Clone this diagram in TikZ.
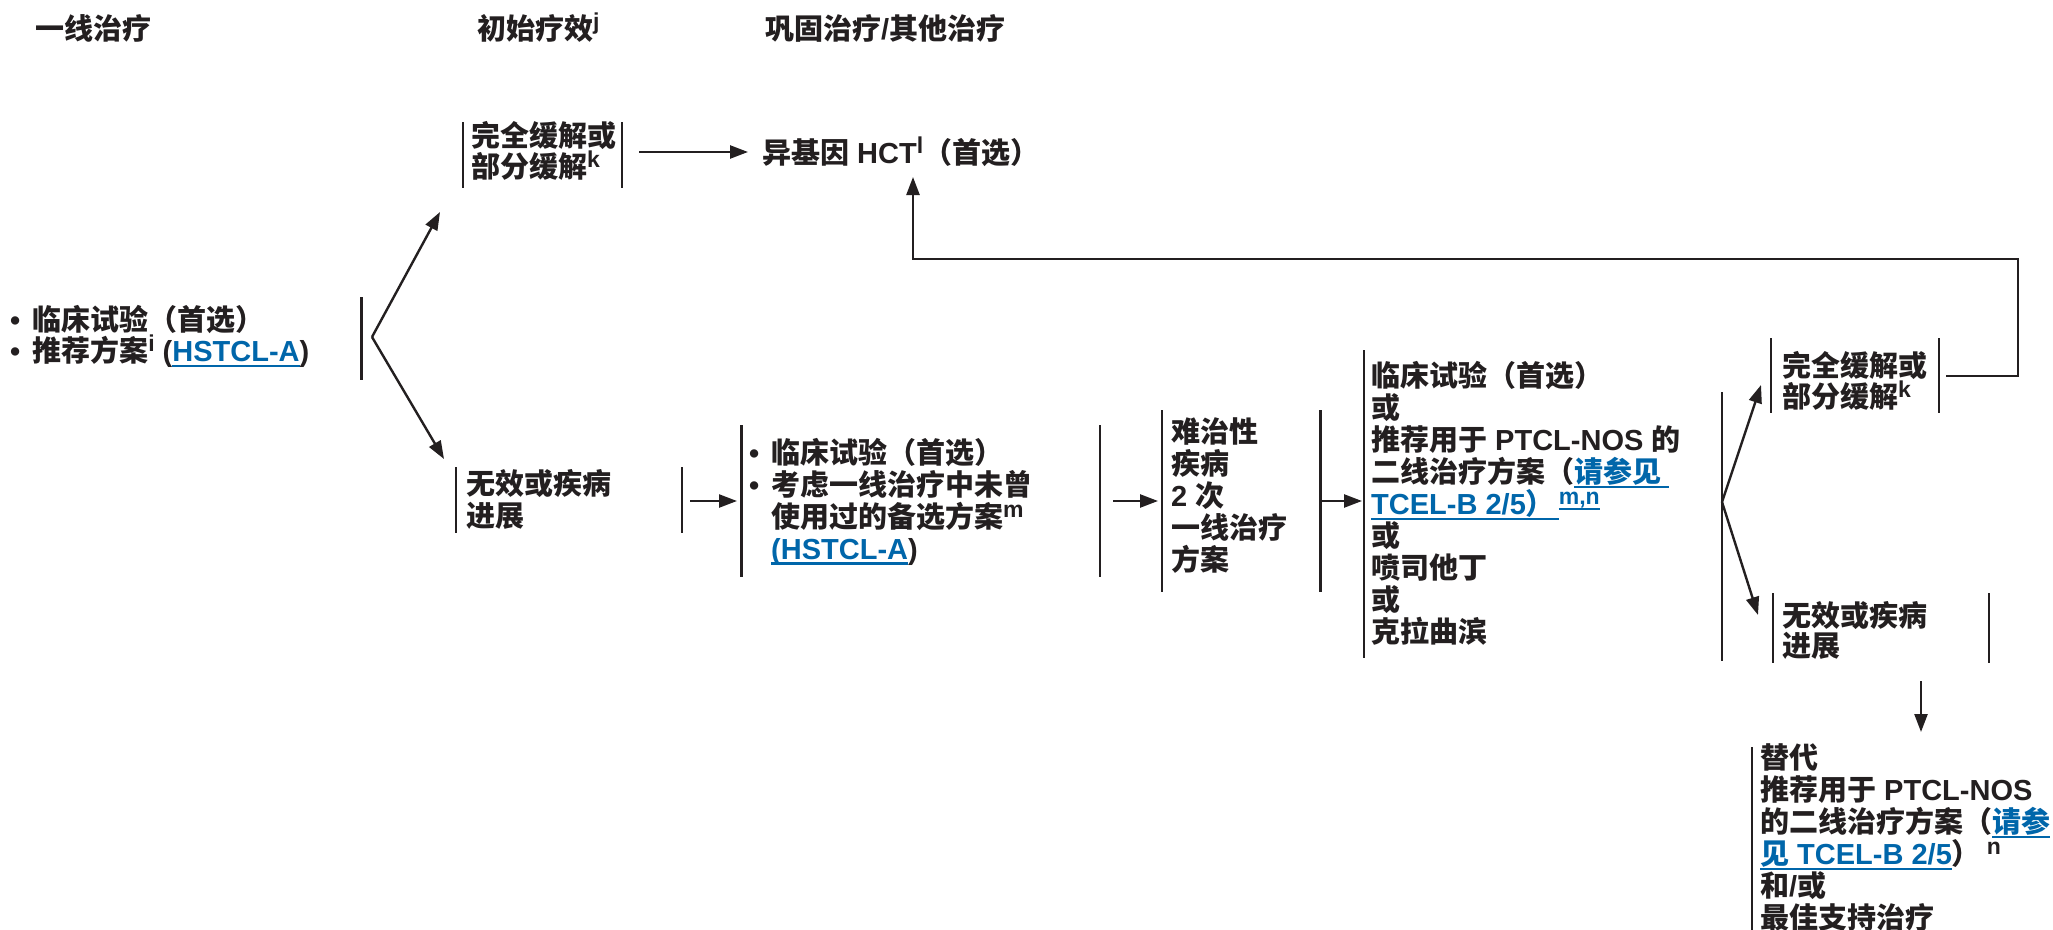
\documentclass[tikz,border=0pt]{standalone}
\usepackage{fontspec}
\usetikzlibrary{arrows.meta}
\setmainfont{Liberation Sans}
\newfontfamily\cjkf{Noto Sans CJK SC}
\newfontfamily\latf{Liberation Sans}
\definecolor{ink}{RGB}{35,31,32}
\definecolor{link}{RGB}{0,102,170}
\newcommand\en[1]{{\latf\bfseries #1}}
\newcommand\sups[1]{\raisebox{10pt}{\latf\bfseries\fontsize{23}{23}\selectfont #1}}
\newcommand\ulx[1]{\setbox0\hbox{#1}\rlap{\vrule height -3pt depth 5.5pt width \wd0}\box0}
\newcommand\lnk[1]{{\color{link}\ulx{#1}}}
\tikzset{
  txt/.style={inner sep=0pt, anchor=west, align=left, text=ink,
    font=\cjkf\bfseries\fontsize{29}{32}\selectfont},
  bar/.style={draw=ink, line width=2.7pt},
  arr/.style={draw=ink, line width=2.4pt, -{Triangle[length=18pt,width=13pt]}},
}
\begin{document}
\begin{tikzpicture}[x=1pt,y=-1pt]
\fill[white] (0,0) rectangle (2053,929);
\useasboundingbox (0,0) rectangle (2053,929);

% headers
\node[txt] (h1) at (35,28) {一线治疗};
\node[txt] (h2) at (477,28) {初始疗效\sups{j}};
\node[txt] (h3) at (765,28) {巩固治疗\en{/}其他治疗};

% first-line therapy
\node[txt, font=\cjkf\bfseries\fontsize{29}{29.5}\selectfont] (L) at (10,336.5)
  {\en{•}\hspace{12pt}临床试验（首选）\\
   \en{•}\hspace{12pt}推荐方案\sups{i}\hspace{8pt}\en{(}\lnk{\en{HSTCL-A}}\en{)}};
\draw[bar] (361.6,297) -- (361.6,380);
\coordinate (br1) at (372,337);
\coordinate (tcrIn) at (440,212);
\coordinate (nr1In) at (444,459);
\draw[arr] (br1) -- (tcrIn);
\draw[arr] (br1) -- (nr1In);

% top CR/PR
\node[txt, font=\cjkf\bfseries\fontsize{29}{31}\selectfont] (tcr) at (471,151) {完全缓解或\\部分缓解\sups{k}};
\draw[bar] (463,122) -- (463,188);
\draw[bar] (622,122) -- (622,188);
\coordinate (tcrOut) at (639,152);
\coordinate (hctIn) at (748,152);
\draw[arr] (tcrOut) -- (hctIn);
\node[txt] (hct) at (762,152) {异基因\hspace{8pt}\en{HCT}\sups{l}（首选）};

% feedback line
\coordinate (cr2Out) at (1946,376);
\coordinate (fbA) at (2018,376);
\coordinate (fbB) at (2018,259);
\coordinate (fbC) at (913,259);
\coordinate (hctUp) at (913,177);
\draw[arr] (cr2Out) -- (fbA) -- (fbB) -- (fbC) -- (hctUp);

% no response 1
\node[txt] (nr1) at (466,499) {无效或疾病\\进展};
\draw[bar] (456,467) -- (456,533);
\draw[bar] (682,467) -- (682,533);
\coordinate (nr1Out) at (690,501);
\coordinate (b2In) at (737,501);
\draw[arr] (nr1Out) -- (b2In);

% box 2
\node[txt] (b2) at (749,501.5)
  {\en{•}\hspace{12pt}临床试验（首选）\\
   \en{•}\hspace{12pt}考虑一线治疗中未曾\\
   \hspace*{22pt}使用过的备选方案\sups{m}\\
   \hspace*{22pt}\lnk{\en{(HSTCL-A}}\en{)}};
\draw[bar] (741.6,425) -- (741.6,577);
\draw[bar] (1100,425) -- (1100,577);
\coordinate (b2Out) at (1113,501);
\coordinate (b3In) at (1158,501);
\draw[arr] (b2Out) -- (b3In);

% box 3
\node[txt] (b3) at (1171,495.5) {难治性\\疾病\\\en{2}\hspace{8pt}次\\一线治疗\\方案};
\draw[bar] (1162,410) -- (1162,592);
\draw[bar] (1320.6,410) -- (1320.6,592);
\coordinate (b3Out) at (1322,501);
\coordinate (b4In) at (1362,501);
\draw[arr] (b3Out) -- (b4In);

% box 4
\node[txt] (b4) at (1371,503.5)
  {临床试验（首选）\\或\\推荐用于\hspace{8pt}\en{PTCL-NOS}\hspace{8pt}的\\
   二线治疗方案（\lnk{请参见\hspace{8pt}}\\
   \lnk{\en{TCEL-B 2/5}）\hspace{4pt}}\sups{\color{link}\ulx{m,n}}\\
   或\\喷司他丁\\或\\克拉曲滨};
\draw[bar] (1364,350) -- (1364,658);
\draw[bar] (1722,392) -- (1722,661);
\coordinate (br2) at (1722,502);
\coordinate (cr2In) at (1761,385);
\coordinate (nr2In) at (1758,615);
\draw[arr] (br2) -- (cr2In);
\draw[arr] (br2) -- (nr2In);

% lower CR/PR
\node[txt, font=\cjkf\bfseries\fontsize{29}{31}\selectfont] (cr2) at (1782,380.5) {完全缓解或\\部分缓解\sups{k}};
\draw[bar] (1771,338) -- (1771,413);
\draw[bar] (1939,338) -- (1939,413);

% no response 2
\node[txt, font=\cjkf\bfseries\fontsize{29}{30}\selectfont] (nr2) at (1782,630) {无效或疾病\\进展};
\draw[bar] (1773,593) -- (1773,663);
\draw[bar] (1989,593) -- (1989,663);
\coordinate (nr2Out) at (1921,681);
\coordinate (finIn) at (1921,732);
\draw[arr] (nr2Out) -- (finIn);

% final box
\node[txt] (fin) at (1760,837.5)
  {替代\\推荐用于\hspace{8pt}\en{PTCL-NOS}\\
   的二线治疗方案（\lnk{请参}\\
   \lnk{见\hspace{8pt}\en{TCEL-B 2/5}}）\hspace{6pt}\sups{n}\\
   和\en{/}或\\最佳支持治疗};
\draw[bar] (1752,747) -- (1752,935);
\end{tikzpicture}
\end{document}
